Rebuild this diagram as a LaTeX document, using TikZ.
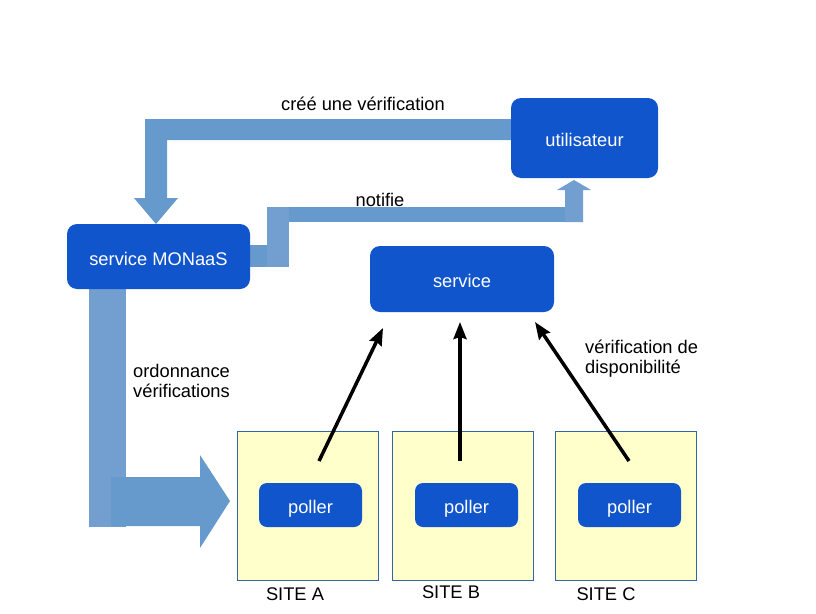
\documentclass[tikz,border=0pt]{standalone}
\usepackage{fontspec}
\setmainfont{Liberation Sans}
\usetikzlibrary{calc,arrows.meta,backgrounds}
\definecolor{boxblue}{HTML}{1155CC}
\definecolor{flowblue}{HTML}{6699CC}
\definecolor{flowlight}{HTML}{729FCF}
\definecolor{siteyellow}{HTML}{FFFFCC}
\definecolor{siteedge}{HTML}{3465A4}

\tikzset{
  svc/.style={fill=boxblue, rounded corners=10pt, text=white, inner sep=0pt, text height=17.4pt, text depth=0pt},
  poll/.style={svc, rounded corners=8pt, minimum width=103pt, minimum height=44pt},
  site/.style={fill=siteyellow, draw=siteedge, line width=1pt, minimum width=141pt, minimum height=149pt, inner sep=0pt},
  lbl/.style={text=black, inner sep=0pt, align=left},
  chk/.style={line width=3.5pt, -{Stealth[length=17pt,width=13pt,inset=2pt]}},
}

\begin{document}
\begin{tikzpicture}[x=1pt,y=-1pt,font=\fontsize{18.3}{20}\selectfont]
        \useasboundingbox (0,0) rectangle (816,613);
        % boxes
        \node[svc, minimum width=147pt, minimum height=80pt] (user) at (584.5,138) {utilisateur};
        \node[svc, minimum width=183pt, minimum height=65pt] (monaas) at (158.5,256.5) {service MONaaS};
        \node[svc, minimum width=184pt, minimum height=66pt] (service) at (462,279) {service};
        \node[site] (siteA) at (307.5,505.5) {};
        \node[site] (siteB) at (462.5,505.5) {};
        \node[site] (siteC) at (625.5,505.5) {};
        \node[poll] (pollA) at (310.5,505) {poller};
        \node[poll] (pollB) at (466.5,505) {poller};
        \node[poll] (pollC) at (629.5,505) {poller};
        \node[lbl] (nameA) at (295,594) {SITE A};
        \node[lbl] (nameB) at (451,592) {SITE B};
        \node[lbl] (nameC) at (606,594) {SITE C};
        % wide arrows
        \begin{scope}[on background layer]
        \fill[flowblue] (520,119) -- (145,119) -- (145,198) -- (134,198) -- (156,224) -- (178,198) -- (167,198) -- (167,140) -- (520,140) -- cycle;
        \fill[flowblue] (250,245) rectangle (289,267);
        \fill[flowlight] (267,207) rectangle (289,267);
        \fill[flowblue] (289,207) rectangle (565,222);
        \fill[flowlight] (565,222) -- (565,190) -- (557,190) -- (574,180) -- (591,190) -- (583,190) -- (583,222) -- cycle;
        \fill[flowlight] (89,289) rectangle (126,527);
        \fill[flowblue] (111,477) -- (200,477) -- (200,455) -- (230,501) -- (200,548) -- (200,526) -- (111,526) -- cycle;
        \end{scope}
        \node[lbl] (cree) at (363,104) {créé une vérification};
        \node[lbl] (notif) at (380,200) {notifie};
        \node[lbl, anchor=west] (ordo) at (133,381) {ordonnance\\vérifications};
        \node[lbl, anchor=west] (dispo) at (585,359) {vérification de\\disponibilité};
        % checks
        \coordinate (fromA) at (319,461);
        \coordinate (toA) at (383,328);
        \coordinate (fromB) at (460,461);
        \coordinate (toB) at (460,322);
        \coordinate (fromC) at (629,461);
        \coordinate (toC) at (535,322);
        \draw[chk] (fromA) -- (toA);
        \draw[chk] (fromB) -- (toB);
        \draw[chk] (fromC) -- (toC);
      \end{tikzpicture}
\end{document}
